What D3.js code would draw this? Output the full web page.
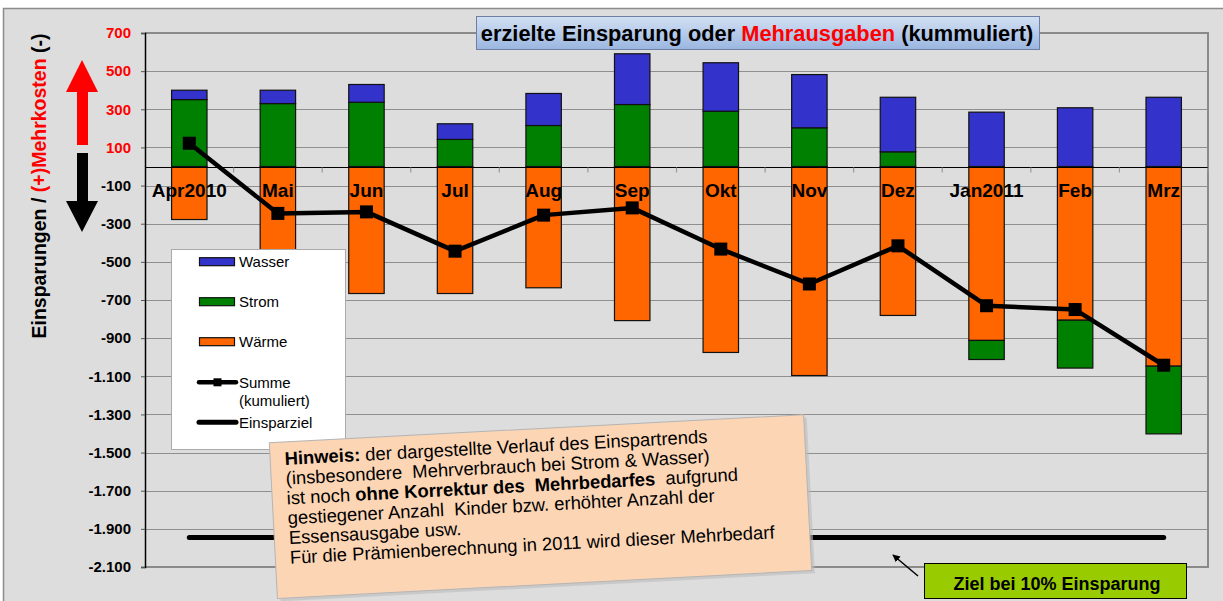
<!DOCTYPE html>
<html><head><meta charset="utf-8">
<script src="https://cdn.jsdelivr.net/npm/d3@7"></script>
<style>
html,body{margin:0;padding:0;background:#fff;}
svg{display:block;font-family:"Liberation Sans",Arial,sans-serif;}
</style></head>
<body>
<svg id="chart" width="1223" height="601"></svg>
<script>
// ---------- DATA ----------
const categories = ["Apr2010","Mai","Jun","Jul","Aug","Sep","Okt","Nov","Dez","Jan2011","Feb","Mrz"];
const waerme = [-278,-646,-666,-666,-636,-808,-975,-1096,-781,-912,-806,-1047];
const strom  = [351,330,337,142,215,325,290,203,77,-100,-251,-355];
const wasser = [49,70,93,82,168,266,254,279,286,285,308,363];
const summe  = [122,-246,-238,-444,-255,-217,-433,-616,-416,-730,-750,-1042];
const einsparziel = [-1945,-1945,-1945,-1945,-1945,-1945,-1945,-1945,-1945,-1945,-1945,-1945];
const yTicks = [700,500,300,100,-100,-300,-500,-700,-900,-1100,-1300,-1500,-1700,-1900,-2100];
const seriesKeys = ["Wärme","Strom","Wasser"];
const seriesColors = {"Wärme":"#ff6600","Strom":"#008000","Wasser":"#3333cc"};
const legendItems = ["Wasser","Strom","Wärme"];

// ---------- SETUP ----------
const svg = d3.select("#chart");
const plot = {left:145, right:1208, top:33, bottom:567};
const x = d3.scaleBand().domain(categories).range([plot.left, plot.right]).paddingInner(0.6).paddingOuter(0.3);
const y = d3.scaleLinear().domain([-2100, 700]).range([plot.bottom, plot.top]);
const cx = c => x(c) + x.bandwidth()/2;
const locale = d3.formatLocale({decimal:",", thousands:".", grouping:[3], currency:["","€"], minus:"-"});
const fmt = locale.format(",d");

// chart area background
svg.append("rect").attr("x",3.5).attr("y",8.5).attr("width",1240).attr("height",620)
  .attr("fill","#dddddd").attr("stroke","#8c8c8c").attr("stroke-width",1.5);

// gridlines
svg.append("g").selectAll("line").data(yTicks).join("line")
  .attr("x1",plot.left).attr("x2",plot.right)
  .attr("y1",d=>Math.round(y(d))+0.5).attr("y2",d=>Math.round(y(d))+0.5)
  .attr("stroke","#8f8f8f").attr("stroke-width",1);

// plot area border (right, bottom)
svg.append("path").attr("d",`M${plot.left},${plot.top}H${plot.right}V${plot.bottom}H${plot.left}`)
  .attr("fill","none").attr("stroke","#8a8a8a").attr("stroke-width",2);

// y axis
const yAxis = d3.axisLeft(y).tickValues(yTicks).tickSize(4).tickPadding(10).tickFormat(fmt);
const gy = svg.append("g").attr("transform",`translate(${plot.left},0)`).call(yAxis);
gy.select(".domain").attr("stroke","#000").attr("stroke-width",1.5);
gy.selectAll(".tick line").attr("stroke","#555");
gy.selectAll(".tick text").attr("font-size",15).attr("font-weight","bold")
  .attr("font-family",'"Liberation Sans",Arial,sans-serif')
  .attr("fill",d=>d>0?"#ff0000":"#000");

// stacked bars
const table = categories.map((c,i)=>({cat:c,"Wärme":waerme[i],"Strom":strom[i],"Wasser":wasser[i]}));
const stacked = d3.stack().keys(seriesKeys).offset(d3.stackOffsetDiverging)(table);
svg.append("g").selectAll("g").data(stacked).join("g")
  .attr("fill",s=>seriesColors[s.key])
  .selectAll("rect").data(s=>s).join("rect")
  .attr("x",d=>x(d.data.cat)).attr("width",x.bandwidth())
  .attr("y",d=>y(Math.max(d[0],d[1])))
  .attr("height",d=>Math.abs(y(d[0])-y(d[1])))
  .attr("stroke","#111").attr("stroke-width",1.2);

// zero line + category ticks
const y0 = Math.round(y(0))+0.5;
svg.append("line").attr("x1",plot.left).attr("x2",plot.right).attr("y1",y0).attr("y2",y0)
  .attr("stroke","#000").attr("stroke-width",1.2);
const step = x.step();
svg.append("g").selectAll("line").data(d3.range(1,categories.length+1)).join("line")
  .attr("x1",d=>plot.left+d*step).attr("x2",d=>plot.left+d*step)
  .attr("y1",y0).attr("y2",y0+5).attr("stroke","#999").attr("stroke-width",1.2);

// category labels
svg.append("g").selectAll("text").data(categories).join("text")
  .attr("x",d=>cx(d)).attr("y",y(0)+30).attr("text-anchor","middle")
  .attr("font-size",19).attr("font-weight","bold").attr("fill","#000").text(d=>d);

// Einsparziel line
svg.append("path").datum(einsparziel)
  .attr("d",d3.line().x((d,i)=>cx(categories[i])).y(d=>y(d)))
  .attr("fill","none").attr("stroke","#000").attr("stroke-width",5).attr("stroke-linecap","round");

// Summe line
svg.append("path").datum(summe)
  .attr("d",d3.line().x((d,i)=>cx(categories[i])).y(d=>y(d)))
  .attr("fill","none").attr("stroke","#000").attr("stroke-width",4.5).attr("stroke-linejoin","round");
svg.append("g").selectAll("rect").data(summe).join("rect")
  .attr("x",(d,i)=>cx(categories[i])-6.5).attr("y",d=>y(d)-6.5)
  .attr("width",13).attr("height",13).attr("fill","#000");

// legend
const lg = svg.append("g");
lg.append("rect").attr("x",171.5).attr("y",249.5).attr("width",174).attr("height",200)
  .attr("fill","#fff").attr("stroke","#aaa").attr("stroke-width",1);
const legY = {"Wasser":261.7,"Strom":301.7,"Wärme":341.7};
legendItems.forEach(k=>{
  lg.append("rect").attr("x",199.5).attr("y",legY[k]-4).attr("width",35).attr("height",8)
    .attr("fill",seriesColors[k]).attr("stroke","#111").attr("stroke-width",1.2);
  lg.append("text").attr("x",239).attr("y",legY[k]+5.5).attr("font-size",15).attr("fill","#000").text(k);
});
lg.append("line").attr("x1",199).attr("x2",236).attr("y1",382.3).attr("y2",382.3)
  .attr("stroke","#000").attr("stroke-width",4.5).attr("stroke-linecap","round");
lg.append("rect").attr("x",213.5).attr("y",378.3).attr("width",8).attr("height",8).attr("fill","#000");
lg.append("text").attr("x",239).attr("y",387.5).attr("font-size",15).text("Summe");
lg.append("text").attr("x",239).attr("y",406).attr("font-size",15).text("(kumuliert)");
lg.append("line").attr("x1",199).attr("x2",236).attr("y1",422.3).attr("y2",422.3)
  .attr("stroke","#000").attr("stroke-width",5).attr("stroke-linecap","round");
lg.append("text").attr("x",239).attr("y",427.5).attr("font-size",15).text("Einsparziel");

// title box
const defs = svg.append("defs");
const grad = defs.append("linearGradient").attr("id","tg").attr("x1",0).attr("y1",0).attr("x2",0).attr("y2",1);
grad.append("stop").attr("offset","0%").attr("stop-color","#d3e0f3");
grad.append("stop").attr("offset","100%").attr("stop-color","#9ab6e0");
svg.append("rect").attr("x",476.5).attr("y",16.5).attr("width",563).attr("height",33)
  .attr("fill","url(#tg)").attr("stroke","#6f7fa3").attr("stroke-width",1);
const tt = svg.append("text").attr("x",757).attr("y",40.5).attr("text-anchor","middle")
  .attr("font-size",21.8).attr("font-weight","bold").attr("fill","#000");
tt.append("tspan").text("erzielte Einsparung oder ");
tt.append("tspan").attr("fill","#ff0000").text("Mehrausgaben");
tt.append("tspan").text(" (kummuliert)");

// y axis title
const at = svg.append("text").attr("transform","translate(46,186) rotate(-90)")
  .attr("text-anchor","middle").attr("font-size",19.5).attr("font-weight","bold").attr("fill","#000");
at.append("tspan").text("Einsparungen / ");
at.append("tspan").attr("fill","#ff0000").text("(+)Mehrkosten");
at.append("tspan").text(" (-)");

// arrows
svg.append("path").attr("d","M77,145 V92 H66 L82,60 L98,92 H88 V145 Z").attr("fill","#ff0000");
svg.append("path").attr("d","M77,153 V201 H66 L82,232 L98,201 H88 V153 Z").attr("fill","#000");

// note box
const note = svg.append("g").attr("transform","translate(269.3,442.7) rotate(-3)");
note.append("rect").attr("x",3).attr("y",3).attr("width",535).attr("height",156).attr("fill","#bdbdbd").attr("opacity",0.6);
note.append("rect").attr("x",0).attr("y",0).attr("width",535).attr("height",156)
  .attr("fill","#fcd5b4").attr("stroke","#b5b5b5").attr("stroke-width",1);
const noteLines = [
  [["b","Hinweis:"],["n"," der dargestellte Verlauf des Einspartrends"]],
  [["n","(insbesondere  Mehrverbrauch bei Strom & Wasser)"]],
  [["n","ist noch "],["b","ohne Korrektur des  Mehrbedarfes"],["n","  aufgrund"]],
  [["n","gestiegener Anzahl  Kinder bzw. erhöhter Anzahl der"]],
  [["n","Essensausgabe usw."]],
  [["n","Für die Prämienberechnung in 2011 wird dieser Mehrbedarf"]]
];
noteLines.forEach((ln,i)=>{
  const t = note.append("text").attr("x",14.5).attr("y",23+i*19.8).attr("font-size",18.4)
    .attr("fill","#000").style("white-space","pre");
  ln.forEach(([w,s])=>t.append("tspan").attr("font-weight",w==="b"?"bold":"normal").text(s));
});

// target box + arrow
defs.append("marker").attr("id","ah").attr("viewBox","0 0 10 10").attr("refX",9).attr("refY",5)
  .attr("markerWidth",5).attr("markerHeight",5).attr("orient","auto")
  .append("path").attr("d","M0,0 L10,5 L0,10 Z").attr("fill","#000");
svg.append("line").attr("x1",918).attr("y1",576).attr("x2",893).attr("y2",555)
  .attr("stroke","#000").attr("stroke-width",1.5).attr("marker-end","url(#ah)");
svg.append("rect").attr("x",924.5).attr("y",563.5).attr("width",262).attr("height",35)
  .attr("fill","#99cc00").attr("stroke","#000").attr("stroke-width",1);
svg.append("text").attr("x",1057).attr("y",590).attr("text-anchor","middle")
  .attr("font-size",18).attr("font-weight","bold").attr("fill","#000").text("Ziel bei 10% Einsparung");
</script>
</body></html>
